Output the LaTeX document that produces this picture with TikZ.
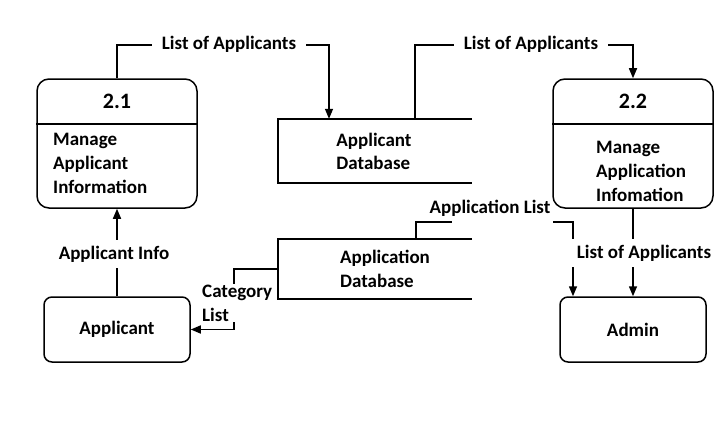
\documentclass[tikz,border=0pt]{standalone}
\usepackage{fontspec}
\setmainfont{Carlito}
\usetikzlibrary{arrows.meta}

\tikzset{
  proc/.style={rectangle, draw=black, line width=1.5pt, rounded corners=12pt, minimum width=160pt, minimum height=129pt},
  ext/.style={rectangle, draw=black, line width=1.5pt, rounded corners=8pt, minimum width=146pt, minimum height=65pt, font=\fontsize{19}{23}\selectfont\bfseries},
  store/.style={rectangle, minimum width=194pt, inner sep=0pt},
  txt/.style={font=\fontsize{19}{24}\selectfont\bfseries, align=left, inner sep=0pt},
  lbl/.style={fill=white, inner xsep=10pt, inner ysep=6pt, font=\fontsize{19}{23}\selectfont\bfseries},
  flow/.style={line width=1.5pt, -{Triangle[length=10pt,width=8pt]}},
  wire/.style={line width=1.5pt},
}

\begin{document}
\begin{tikzpicture}[x=1pt, y=-1pt]
\useasboundingbox (0,0) rectangle (720,428);

% processes
\node[proc] (p21) at (117,143.5){};
\node[font=\fontsize{22}{26}\selectfont\bfseries] (t21) at (117,101){2.1};
\draw[wire] (p21.west |- 0,124) -- (p21.east |- 0,124);
\node[txt, anchor=west] (m21) at (53,163){Manage\\Applicant\\Information};

\node[proc] (p22) at (633,143.5){};
\node[font=\fontsize{22}{26}\selectfont\bfseries] (t22) at (633,101){2.2};
\draw[wire] (p22.west |- 0,124) -- (p22.east |- 0,124);
\node[txt, anchor=west] (m22) at (596,171){Manage\\Application\\Infomation};

% data stores
\node[store, minimum height=64pt] (apldb) at (375,151){};
\draw[wire] (apldb.north east) -- (apldb.north west) -- (apldb.south west) -- (apldb.south east);
\node[txt, font=\fontsize{19}{23}\selectfont\bfseries] (apldbt) at (374,151){Applicant\\Database};

\node[store, minimum height=60pt] (appdb) at (375,269){};
\draw[wire] (appdb.north east) -- (appdb.north west) -- (appdb.south west) -- (appdb.south east);
\node[txt] (appdbt) at (385,269){Application\\Database};

% entities
\node[ext] (applicant) at (117,329.5){Applicant};
\node[ext] (admin) at (633,329.5){Admin};

% flows
\coordinate (c1) at (329,45);
\draw[flow] (p21.north) |- (c1) -- (apldb.north -| c1);

\coordinate (c2) at (415,45);
\draw[flow] (apldb.north -| c2) -- (c2) -| (p22.north);

\draw[flow] (p22.south) -- (admin.north);
\draw[flow] (applicant.north) -- (p21.south);

\coordinate (c5a) at (416,222);
\coordinate (c5b) at (452,222);
\coordinate (c5c) at (553,222);
\coordinate (c5d) at (573,222);
\draw[wire] (appdb.north -| c5a) -- (c5a) -- (c5b);
\draw[flow] (c5c) -| (admin.north -| c5d);

\coordinate (c6) at (234,329.5);
\draw[flow] (appdb.west) -| (c6) -- (applicant.east);

% flow labels
\node[lbl] (l1) at (229,44){List of Applicants};
\node[lbl] (l2) at (531,44){List of Applicants};
\node[lbl] (l3) at (644,253){List of Applicants};
\node[lbl] (l4) at (114,254){Applicant Info};
\node[txt] (l5) at (490,208){Application List};
\node[lbl, anchor=west, align=left, inner xsep=2pt, inner ysep=1pt, font=\fontsize{19}{24}\selectfont\bfseries] (l6) at (200,303){Category\\List};
\end{tikzpicture}
\end{document}
